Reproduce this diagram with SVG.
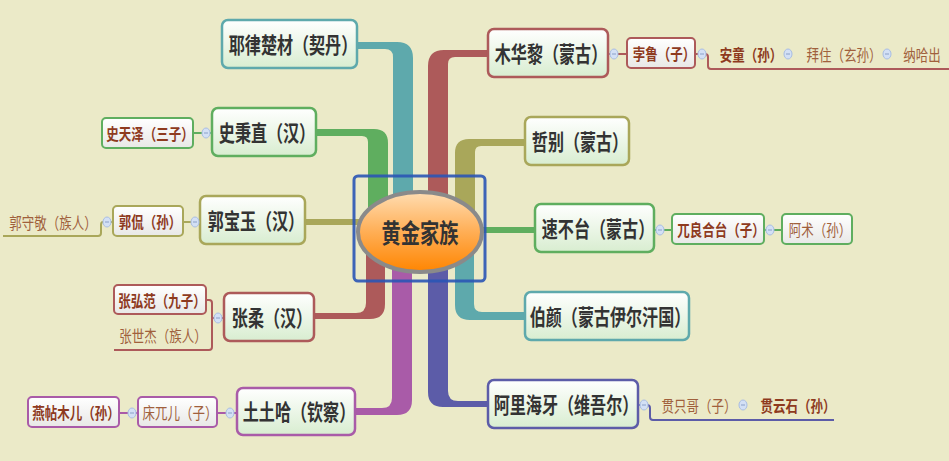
<svg xmlns="http://www.w3.org/2000/svg" xmlns:xlink="http://www.w3.org/1999/xlink" width="949" height="461" viewBox="0 0 949 461">
<defs>
<linearGradient id="gm" x1="0" y1="0" x2="0" y2="1"><stop offset="0" stop-color="#FFFFFF"/><stop offset="1" stop-color="#D8EDD0"/></linearGradient>
<linearGradient id="gs" x1="0" y1="0" x2="0" y2="1"><stop offset="0" stop-color="#FFFFFF"/><stop offset="1" stop-color="#E8E8E6"/></linearGradient>
<linearGradient id="go" x1="0" y1="0" x2="0" y2="1"><stop offset="0" stop-color="#FFDDB2"/><stop offset="0.5" stop-color="#FFAE55"/><stop offset="1" stop-color="#FF8500"/></linearGradient>
<g id="c"><ellipse rx="4" ry="5" fill="#D3E0F5" stroke="#A8BDE3" stroke-width="1"/><line x1="-2" y1="0" x2="2" y2="0" stroke="#8AA0C8" stroke-width="1"/></g>
<style>
.m{fill:url(#gm);stroke-width:2.5}
.s{fill:url(#gs);stroke-width:2}
.mt{font-family:"Noto Sans CJK SC","Noto Sans",sans-serif;font-size:22px;font-weight:700;fill:#333333;text-anchor:middle;dominant-baseline:central}
.sb{font-family:"Noto Sans CJK SC","Noto Sans",sans-serif;font-size:16px;font-weight:700;fill:#8E3A1E;text-anchor:middle;dominant-baseline:central}
.sn{font-family:"Noto Sans CJK SC","Noto Sans",sans-serif;font-size:16px;font-weight:400;fill:#A0603C;text-anchor:middle;dominant-baseline:central}
.ln{fill:none;stroke-width:2}
.teal{stroke:#5EA9AC}.green{stroke:#5FAE5F}.red{stroke:#AD5A5A}.olive{stroke:#A9A75A}.ind{stroke:#5C5CA8}.pur{stroke:#A95BA8}
</style>
</defs>
<rect x="0" y="0" width="949" height="461" fill="#EBEAC8"/>

<g id="connectors">
<path fill="#5EA9AC" d="M357,42 L397,42 Q413,42 413,58 L413,232 L393,232 L393,57 Q393,49 385,49 L357,49 Z"/>
<path fill="#5FAE5F" d="M316,129 L374,129 Q388,129 388,143 L388,232 L368,232 L368,142 Q368,136 362,136 L316,136 Z"/>
<path fill="#A9A75A" d="M305,219 L420,219 L420,225 L305,225 Z"/>
<path fill="#AD5A5A" d="M366,232 L366,303 Q366,313 356,313 L314,313 L314,319 L370,319 Q385,319 385,304 L385,232 Z"/>
<path fill="#A95BA8" d="M392,232 L392,398 Q392,408 382,408 L355,408 L355,415 L397,415 Q412,415 412,400 L412,232 Z"/>
<path fill="#AD5A5A" d="M488,50 L444,50 Q428,50 428,66 L428,232 L448,232 L448,64 Q448,57 455,57 L488,57 Z"/>
<path fill="#A9A75A" d="M525,139 L469,139 Q455,139 455,153 L455,232 L475,232 L475,152 Q475,146 481,146 L525,146 Z"/>
<path fill="#5FAE5F" d="M420,227 L535,227 L535,233 L420,233 Z"/>
<path fill="#5EA9AC" d="M474,232 L474,304 Q474,312 482,312 L525,312 L525,320 L470,320 Q455,320 455,305 L455,232 Z"/>
<path fill="#5C5CA8" d="M448,232 L448,391 Q448,401 458,401 L488,401 L488,407 L443,407 Q428,407 428,392 L428,232 Z"/>

<path class="ln green" d="M212,133 L193,133"/>
<path class="ln olive" d="M200,222 L183,222"/>
<path class="ln olive" d="M113,222 L103,222 Q101,222 101,225 L101,233 Q101,236 98,236 L3,236"/>
<path class="ln red" d="M224,318 L212,318 M206,300 L209,300 Q212,300 212,303 L212,347 Q212,350 209,350 L114,350"/>
<path class="ln pur" d="M237,413 L217,413 M138,413 L119,413"/>
<path class="ln red" d="M608,54 L627,54 M695,54 L705,54 Q708,54 708,57 L708,66 Q708,69 711,69 L949,69"/>
<path class="ln green" d="M654,230 L672,230 M764,230 L782,230"/>
<path class="ln ind" d="M638,405 L647,405 Q650,405 650,408 L650,417 Q650,420 653,420 L834,420"/>
</g>

<g id="center">
<rect x="354" y="176" width="131" height="105" rx="4" fill="none" stroke="#2A55B5" stroke-width="3" opacity="0.9"/>
<ellipse cx="420" cy="232" rx="62" ry="40" fill="url(#go)" stroke="#8A8A8A" stroke-width="4"/>
<text class="mt" style="font-size:26px" transform="translate(420,232) scale(0.74,1)">黄金家族</text>
</g>

<g id="n-yelu"><rect class="m teal" x="222" y="20" width="135" height="48" rx="6"/><text class="mt" transform="translate(293,44) scale(0.73,1)">耶律楚材（契丹）</text></g>
<g id="n-shibingzhi"><rect class="m green" x="212" y="108" width="104" height="48" rx="6"/><text class="mt" transform="translate(267,132) scale(0.73,1)">史秉直（汉）</text></g>
<g id="n-guobaoyu"><rect class="m olive" x="200" y="196" width="105" height="48" rx="6"/><text class="mt" transform="translate(256,220) scale(0.73,1)">郭宝玉（汉）</text></g>
<g id="n-zhangrou"><rect class="m red" x="224" y="293" width="90" height="48" rx="6"/><text class="mt" transform="translate(272,317) scale(0.73,1)">张柔（汉）</text></g>
<g id="n-tutuha"><rect class="m pur" x="237" y="388" width="118" height="47" rx="6"/><text class="mt" transform="translate(299,411) scale(0.73,1)">土土哈（钦察）</text></g>
<g id="n-muhuali"><rect class="m red" x="488" y="29" width="120" height="48" rx="6"/><text class="mt" transform="translate(551,53) scale(0.73,1)">木华黎（蒙古）</text></g>
<g id="n-zhebie"><rect class="m olive" x="525" y="117" width="104" height="48" rx="6"/><text class="mt" transform="translate(580,141) scale(0.73,1)">哲别（蒙古）</text></g>
<g id="n-subutai"><rect class="m green" x="535" y="204" width="119" height="48" rx="6"/><text class="mt" transform="translate(598,228) scale(0.73,1)">速不台（蒙古）</text></g>
<g id="n-boyan"><rect class="m teal" x="525" y="292" width="164" height="48" rx="6"/><text class="mt" transform="translate(610,316) scale(0.73,1)">伯颜（蒙古伊尔汗国）</text></g>
<g id="n-alihaiya"><rect class="m ind" x="488" y="380" width="150" height="48" rx="6"/><text class="mt" transform="translate(566,404) scale(0.73,1)">阿里海牙（维吾尔）</text></g>

<g id="n-shitianze"><rect class="s green" x="102" y="118" width="91" height="30" rx="4"/><text class="sb" transform="translate(150,133) scale(0.78,1)">史天泽（三子）</text></g>
<g id="n-guokan"><rect class="s olive" x="113" y="206" width="70" height="30" rx="4"/><text class="sb" transform="translate(150,221) scale(0.78,1)">郭侃（孙）</text></g>
<g id="n-guoshoujing"><text class="sn" transform="translate(53,222) scale(0.78,1)">郭守敬（族人）</text></g>
<g id="n-zhanghongfan"><rect class="s red" x="114" y="285" width="92" height="29" rx="4"/><text class="sb" transform="translate(162,299.5) scale(0.78,1)">张弘范（九子）</text></g>
<g id="n-zhangshijie"><text class="sn" transform="translate(163,335) scale(0.78,1)">张世杰（族人）</text></g>
<g id="n-chuangwuer"><rect class="s pur" x="138" y="397" width="79" height="30" rx="4"/><text class="sn" transform="translate(180,412) scale(0.78,1)">床兀儿（子）</text></g>
<g id="n-yantiemuer"><rect class="s pur" x="28" y="397" width="91" height="30" rx="4"/><text class="sb" transform="translate(76,412) scale(0.78,1)">燕帖木儿（孙）</text></g>
<g id="n-bolu"><rect class="s red" x="627" y="38" width="68" height="30" rx="4"/><text class="sb" transform="translate(664,53) scale(0.78,1)">孛鲁（子）</text></g>
<g id="n-antong"><text class="sb" transform="translate(751,54) scale(0.78,1)">安童（孙）</text></g>
<g id="n-baizhu"><text class="sn" transform="translate(844,54) scale(0.78,1)">拜住（玄孙）</text></g>
<g id="n-nahachu"><text class="sn" transform="translate(922,54) scale(0.78,1)">纳哈出</text></g>
<g id="n-wulianghetai"><rect class="s green" x="672" y="214" width="92" height="30" rx="4"/><text class="sb" transform="translate(721,229) scale(0.78,1)">兀良合台（子）</text></g>
<g id="n-azhu"><rect class="s green" x="782" y="214" width="70" height="30" rx="4"/><text class="sn" transform="translate(820,229) scale(0.78,1)">阿术（孙）</text></g>
<g id="n-guanzhige"><text class="sn" transform="translate(699,405) scale(0.78,1)">贯只哥（子）</text></g>
<g id="n-guanyunshi"><text class="sb" transform="translate(798,405) scale(0.78,1)">贯云石（孙）</text></g>

<g id="collapse">
<use xlink:href="#c" x="206" y="133"/>
<use xlink:href="#c" x="195" y="222"/>
<use xlink:href="#c" x="107" y="222"/>
<use xlink:href="#c" x="218" y="318"/>
<use xlink:href="#c" x="230" y="413"/>
<use xlink:href="#c" x="132" y="413"/>
<use xlink:href="#c" x="614" y="54"/>
<use xlink:href="#c" x="702" y="54"/>
<use xlink:href="#c" x="788" y="54"/>
<use xlink:href="#c" x="887" y="54"/>
<use xlink:href="#c" x="660" y="230"/>
<use xlink:href="#c" x="770" y="230"/>
<use xlink:href="#c" x="644" y="405"/>
<use xlink:href="#c" x="743" y="405"/>
</g>
</svg>
